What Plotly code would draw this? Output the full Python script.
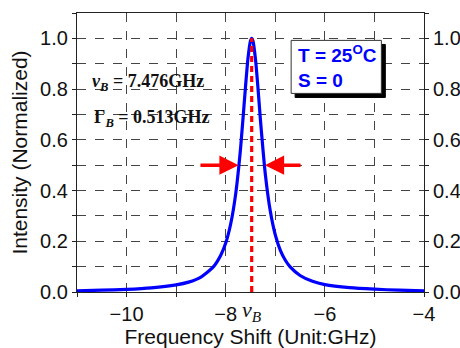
import plotly.graph_objects as go

# ---- data ----
freq_shift = [-11.0, -10.5, -10.0, -9.5, -9.0, -8.75, -8.5, -8.25, -8.1, -8.0, -7.9, -7.8,
              -7.7, -7.6, -7.55, -7.5, -7.476, -7.45, -7.4, -7.35, -7.3, -7.2, -7.1, -7.0,
              -6.9, -6.8, -6.7, -6.5, -6.25, -6.0, -5.5, -5.0, -4.5, -4.0]
intensity = [0.005, 0.007, 0.010, 0.016, 0.028, 0.039, 0.059, 0.099, 0.145, 0.193, 0.268, 0.385,
             0.567, 0.811, 0.923, 0.991, 1.000, 0.990, 0.919, 0.806, 0.680, 0.463, 0.318, 0.225,
             0.165, 0.126, 0.099, 0.065, 0.042, 0.029, 0.017, 0.011, 0.007, 0.005]
peak_center = -7.476
half_max = 0.5
fwhm_left = -7.74
fwhm_right = -7.21
arrow_tail_left = -8.54
arrow_tail_right = -6.46

SANS = "Arial, Liberation Sans, sans-serif"
SERIF = "Times New Roman, Liberation Serif, serif"

fig = go.Figure()
fig.add_trace(go.Scatter(x=freq_shift, y=intensity, mode="lines",
                         line=dict(color="#0000ff", width=3.2, shape="spline", smoothing=0.6),
                         hoverinfo="skip", showlegend=False))
fig.add_trace(go.Scatter(x=[peak_center, peak_center], y=[0, 1.0], mode="lines",
                         line=dict(color="#ff0000", width=3.2, dash="6px,4px"),
                         hoverinfo="skip", showlegend=False))
# invisible trace for right axis
fig.add_trace(go.Scatter(x=[-11], y=[0], yaxis="y2", mode="markers",
                         marker=dict(opacity=0), hoverinfo="skip", showlegend=False))

grid = dict(showgrid=True, gridcolor="#444", gridwidth=1, griddash="dash")
axis_common = dict(showline=True, linecolor="#222", linewidth=1.2, mirror=True,
                   ticks="outside", ticklen=4, tickcolor="#222", tickwidth=1,
                   tickfont=dict(family=SANS, size=20, color="#111"), zeroline=False,
                   automargin=False)

fig.update_layout(
    width=460, height=348,
    margin=dict(l=77, r=36, t=13, b=56),
    paper_bgcolor="white", plot_bgcolor="white",
    xaxis=dict(range=[-11, -4], tick0=-10, dtick=2,
               minor=dict(dtick=1, ticks="outside", ticklen=4, tickcolor="#222", **grid),
               title=dict(text="Frequency Shift (Unit:GHz)", standoff=4,
                          font=dict(family=SANS, size=21, color="#111")),
               **grid, **axis_common),
    yaxis=dict(range=[0, 1.1], tick0=0, dtick=0.2, tickformat=".1f",
               minor=dict(dtick=0.1, ticks="outside", ticklen=4, tickcolor="#222", **grid),
               title=dict(text="Intensity (Normalized)", standoff=6,
                          font=dict(family=SANS, size=21, color="#111")),
               **grid, **axis_common),
    yaxis2=dict(range=[0, 1.1], tick0=0, dtick=0.2, tickformat=".1f",
                overlaying="y", side="right", showgrid=False, showline=False,
                minor=dict(dtick=0.1, ticks="outside", ticklen=4, tickcolor="#222", showgrid=False),
                ticks="outside", ticklen=4, tickcolor="#222", automargin=False,
                tickfont=dict(family=SANS, size=20, color="#111"), zeroline=False),
)

# FWHM arrows
for head, tail in [(fwhm_left, arrow_tail_left), (fwhm_right, arrow_tail_right)]:
    fig.add_annotation(x=head, y=half_max, ax=tail, ay=half_max, xref="x", yref="y",
                       axref="x", ayref="y", text="", showarrow=True, arrowhead=2,
                       arrowsize=1.1, arrowwidth=3.5, arrowcolor="#ff0000")

# text annotations
fig.add_annotation(x=-10.74, y=0.827, xref="x", yref="y", xanchor="left", yanchor="middle",
                   showarrow=False,
                   text="<b><i>ν</i><sub><i>B</i></sub> = 7.476GHz</b>",
                   font=dict(family=SERIF, size=18, color="#111"))
fig.add_annotation(x=-10.70, y=0.685, xref="x", yref="y", xanchor="left", yanchor="middle",
                   showarrow=False,
                   text="<b>Γ<sub><i>B</i></sub> = 0.513GHz</b>",
                   font=dict(family=SERIF, size=18, color="#111"))
fig.add_annotation(x=peak_center, y=0, xref="x", yref="paper", xanchor="center", yanchor="top",
                   yshift=-3, showarrow=False,
                   text="<i>ν</i><sub><i>B</i></sub>",
                   font=dict(family=SERIF, size=22, color="#111"))

# legend-like box with shadow
box_x0, box_x1, box_y0, box_y1 = -6.68, -4.86, 0.783, 0.992
fig.add_shape(type="rect", xref="x", yref="y", x0=box_x0 + 0.08, x1=box_x1 + 0.08,
              y0=box_y0 - 0.016, y1=box_y1 - 0.016, fillcolor="black",
              line=dict(color="black", width=1), layer="above")
fig.add_shape(type="rect", xref="x", yref="y", x0=box_x0, x1=box_x1,
              y0=box_y0, y1=box_y1, fillcolor="white",
              line=dict(color="#333", width=1), layer="above")
fig.add_annotation(x=box_x0 + 0.1, y=(box_y0 + box_y1) / 2, xref="x", yref="y",
                   xanchor="left", yanchor="middle", align="left", showarrow=False,
                   text="<b>T = 25<sup>O</sup>C</b><br><b>S = 0</b>",
                   font=dict(family=SANS, size=19, color="#0000ff"))

fig.write_html("out.html")
